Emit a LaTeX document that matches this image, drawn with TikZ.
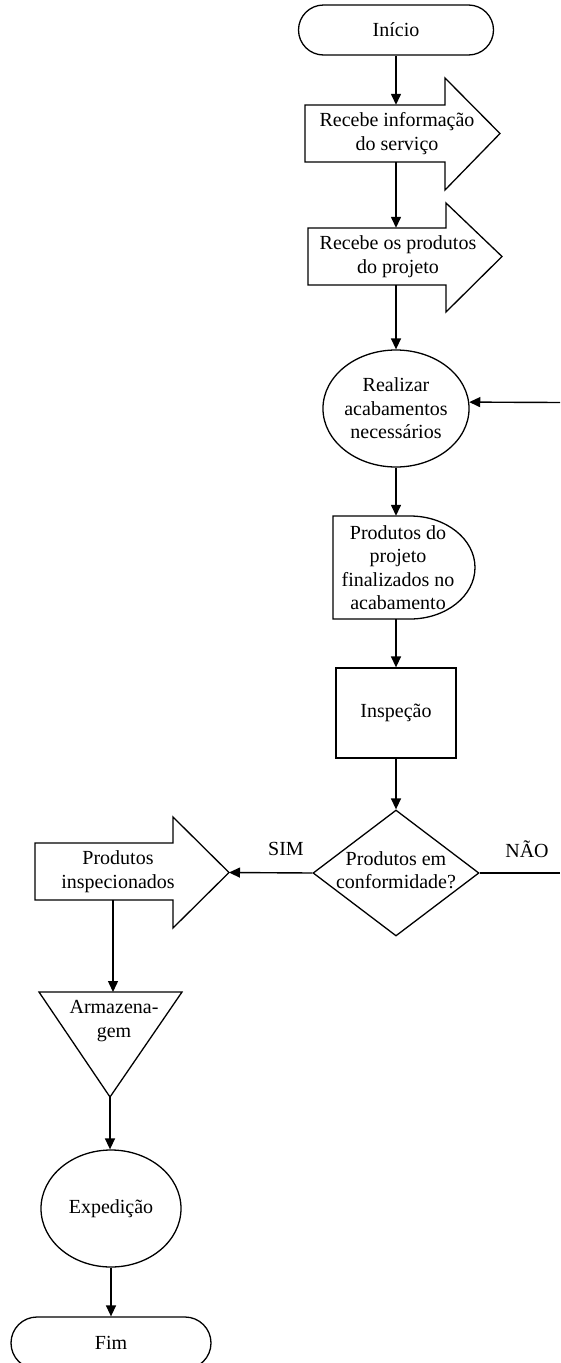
\documentclass[tikz,border=0pt]{standalone}
\usepackage{fontspec}
\setmainfont{Liberation Serif}
\usetikzlibrary{shapes.geometric,shapes.misc,arrows.meta}
\begin{document}
\begin{tikzpicture}[x=1pt,y=-1pt,
  every node/.style={font=\fontsize{20}{23.5}\selectfont, align=center, inner sep=0pt},
  outline/.style={draw=black, line width=1.3pt, line join=miter},
  flow/.style={draw=black, line width=1.4pt, -{Triangle[length=11pt,width=10pt]}},
  terminal/.style={outline, rounded rectangle, minimum width=195pt, minimum height=50pt},
  oval/.style={outline, ellipse, minimum width=138pt, minimum height=117pt},
  process/.style={outline, rectangle, minimum width=120pt, minimum height=90pt},
  decision/.style={outline, diamond, minimum width=166pt, minimum height=126pt},
  tag/.style={font=\fontsize{20}{23.5}\selectfont}
]
\useasboundingbox (0,0) rectangle (560,1363);
\fill[white] (0,0) rectangle (560,1363);

% start
\node[terminal] (inicio) at (396,30) {Início};

% first block arrow
\draw[outline] (445,105) -- (445,78) -- (500,133.5) -- (445,190) -- (445,162)
  -- (305,162) -- (305,105) -- cycle;
\node[minimum height=57pt] (rinfo) at (397,133.5) {Recebe informação\\do serviço};

% second block arrow
\draw[outline] (446,228) -- (446,203) -- (502,256.5) -- (446,312) -- (446,285)
  -- (308,285) -- (308,228) -- cycle;
\node[minimum height=57pt] (rprod) at (398,256.5) {Recebe os produtos\\do projeto};

% finishing
\node[oval] (real) at (396,408.5) {Realizar\\acabamentos\\necessários};

% delay-shaped block
\draw[outline] (333,516) -- (410,516)
  arc[start angle=-90, end angle=90, x radius=65, y radius=51.5]
  -- (333,619) -- cycle;
\node[minimum height=103pt] (fin) at (398,567.5)
  {Produtos do\\projeto\\finalizados no\\acabamento};

% inspection
\node[process] (insp) at (396,713) {Inspeção};

% decision
\node[decision, label={[align=center, yshift=3pt]center:Produtos em\\conformidade?}] (conf) at (396,873) {};

% inspected products block arrow
\draw[outline] (173,843) -- (173,817) -- (229,872.5) -- (173,928) -- (173,900)
  -- (35,900) -- (35,843) -- cycle;
\coordinate (pinspTip) at (229,872.5);
\node[minimum height=57pt] (pinsp) at (118,871.5) {Produtos\\inspecionados};

% storage triangle
\coordinate (armTop) at (113,992);
\coordinate (armBot) at (110,1097);
\draw[outline] (39,992) -- (182,992) -- (armBot) -- cycle;
\node (arm) at (114,1021) {Armazena-\\gem};

% shipping and end
\node[oval, minimum width=140pt] (exped) at (111,1208.5) {Expedição};
\node[terminal, minimum width=200pt, minimum height=52pt] (fim) at (111,1343) {Fim};

% branch labels
\node[tag] (sim) at (286,849) {SIM};
\node[tag] (nao) at (527,849) {NÃO};

% loop-back ends at the right margin
\coordinate (naoEnd) at (560,873);
\coordinate (ret) at (560,402.5);

% connectors
\draw[flow] (inicio.south) -- (inicio.south |- rinfo.north);
\draw[flow] (rinfo.south -| inicio.south) -- (inicio.south |- rprod.north);
\draw[flow] (rprod.south -| real.north) -- (real.north);
\draw[flow] (real.south) -- (real.south |- fin.north);
\draw[flow] (fin.south -| insp.north) -- (insp.north);
\draw[flow] (insp.south) -- (conf.north);
\draw[flow] (conf.west) -- (pinspTip);
\draw[line width=1.4pt] (conf.east) -- (naoEnd);
\draw[flow] (ret) -- (real.5);
\draw[flow] (pinsp.south -| armTop) -- (armTop);
\draw[flow] (armBot) -- (armBot |- exped.north);
\draw[flow] (exped.south) -- (fim.north);
\end{tikzpicture}
\end{document}
